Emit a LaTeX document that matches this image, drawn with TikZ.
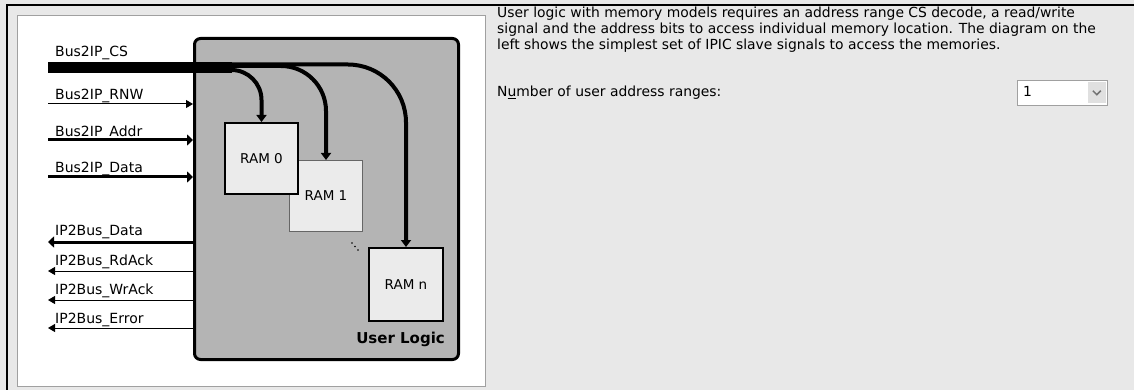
\documentclass[tikz,border=0pt]{standalone}
\usepackage{fontspec}
\setmainfont{DejaVu Sans}
\usepackage{tikz}
\usetikzlibrary{arrows.meta}
\definecolor{panelgray}{HTML}{E8E8E8}
\definecolor{logicgray}{HTML}{B4B4B4}
\definecolor{ramfill}{HTML}{EBEBEB}
\definecolor{framegray}{HTML}{A0A0A0}

\begin{document}
\begin{tikzpicture}[x=1pt,y=-1pt,
  lbl/.style={anchor=base west,inner sep=0pt,font=\fontsize{14}{16}\selectfont},
  txt/.style={anchor=base west,inner sep=0pt,font=\fontsize{13.9}{16}\selectfont},
  ram/.style={rectangle,draw=black,line width=2pt,fill=ramfill,anchor=north west,minimum width=73pt,minimum height=71pt,inner sep=0pt,font=\fontsize{13.5}{16}\selectfont},
  thinsig/.style={line width=1pt,-{Triangle[length=7pt,width=8pt]}},
  bussig/.style={line width=3pt,-{Triangle[length=6pt,width=11pt]}},
  csbranch/.style={line width=4pt,-{Triangle[length=7pt,width=10pt]}}]
\useasboundingbox (0,0) rectangle (1134,390);
\fill[panelgray] (0,0) rectangle (1134,390);
\draw[black,line width=2pt] (6.5,390) -- (6.5,5) -- (1134,5);
\node[rectangle,draw=framegray,fill=white,line width=1pt,anchor=north west,minimum width=468pt,minimum height=371pt,inner sep=0pt] (diagpanel) at (17,15) {};

% user logic block with the memories
\node[rectangle,rounded corners=6pt,draw=black,line width=3pt,fill=logicgray,anchor=north west,minimum width=264pt,minimum height=321pt,inner sep=0pt] (ulogic) at (193,37) {};
\node[ram,draw=black!60,line width=1pt] (ram1) at (289,160) {RAM 1};
\node[ram] (ram0) at (224,122) {RAM 0};
\node[ram,minimum width=74pt,minimum height=73pt] (ramn) at (368,247) {RAM n};
\node[anchor=base east,inner sep=0pt,font=\fontsize{15}{18}\selectfont\bfseries] (ullabel) at (445,343) {User Logic};
\foreach \i in {0,1,2}
  \fill (352+3*\i,243+3.5*\i) circle (0.9pt);

% inputs
\coordinate (cs) at (48,67.5);
\coordinate (csend) at (232,67.5);
\coordinate (cs0) at (48,70);
\coordinate (cs1) at (48,66);
\coordinate (csn) at (48,64.5);
\coordinate (rnw) at (48,104);
\coordinate (addr) at (48,140);
\coordinate (wdata) at (48,177);
\node[lbl] (lcs) at (55,57) {Bus2IP\_CS};
\node[lbl] (lrnw) at (55,100) {Bus2IP\_RNW};
\node[lbl] (laddr) at (55,137) {Bus2IP\_Addr};
\node[lbl] (lwdata) at (55,172) {Bus2IP\_Data};
\draw[line width=11pt] (cs) -- (csend);
\draw[csbranch,rounded corners=58pt] (csn) -| (ramn.north);
\draw[csbranch,rounded corners=45pt] (cs1) -| (ram1.north);
\draw[csbranch,rounded corners=30pt] (cs0) -| (ram0.north);
\draw[thinsig] (rnw) -- (rnw -| ulogic.west);
\draw[bussig] (addr) -- (addr -| ulogic.west);
\draw[bussig] (wdata) -- (wdata -| ulogic.west);

% outputs
\coordinate (rdata) at (48,242);
\coordinate (rdack) at (48,271);
\coordinate (wrack) at (48,300);
\coordinate (error) at (48,328);
\node[lbl] (lrdata) at (55,235) {IP2Bus\_Data};
\node[lbl] (lrdack) at (55,265) {IP2Bus\_RdAck};
\node[lbl] (lwrack) at (55,294) {IP2Bus\_WrAck};
\node[lbl] (lerror) at (55,323) {IP2Bus\_Error};
\draw[bussig] (rdata -| ulogic.west) -- (rdata);
\draw[thinsig] (rdack -| ulogic.west) -- (rdack);
\draw[thinsig] (wrack -| ulogic.west) -- (wrack);
\draw[thinsig] (error -| ulogic.west) -- (error);

% description and setting
\node[txt] (desc1) at (497,18) {User logic with memory models requires an address range CS decode, a read/write};
\node[txt] (desc2) at (497,34) {signal and the address bits to access individual memory location. The diagram on the};
\node[txt] (desc3) at (497,50) {left shows the simplest set of IPIC slave signals to access the memories.};
\node[txt] (nranges) at (497,97) {N\underline{u}mber of user address ranges:};
\node[rectangle,draw=framegray,fill=white,line width=1pt,anchor=north west,minimum width=90pt,minimum height=25pt,inner sep=0pt] (rangebox) at (1017,80) {};
\node[txt] (rangeval) at (1023,97) {1};
\node[rectangle,fill=black!12,anchor=north east,minimum width=18pt,minimum height=21pt,inner sep=0pt] (rangebtn) at ([xshift=-2pt,yshift=-2pt]rangebox.north east) {};
\draw[black!55,line width=1.5pt] ([xshift=-4pt,yshift=2pt]rangebtn.center) -- ([yshift=-2pt]rangebtn.center) -- ([xshift=4pt,yshift=2pt]rangebtn.center);
\end{tikzpicture}
\end{document}
